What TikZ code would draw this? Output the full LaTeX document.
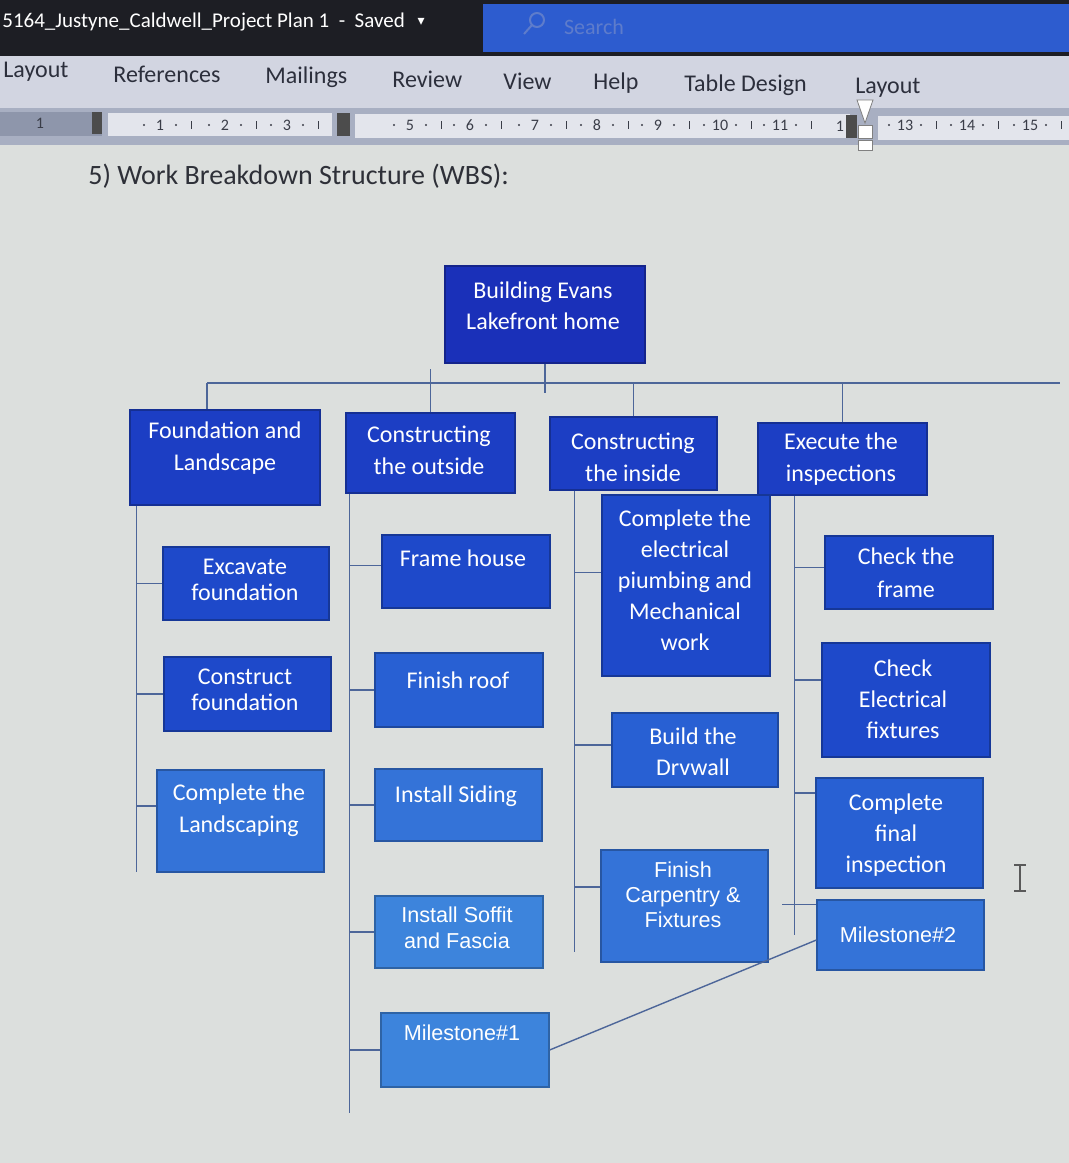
\documentclass[tikz,border=0pt]{standalone}
\usepackage{fontspec}
\setmainfont{Carlito}
\newfontfamily\arialf{Liberation Sans}
\newfontfamily\symf{DejaVu Sans}
\usetikzlibrary{calc,fit,positioning}

\definecolor{titlebar}{HTML}{1D1E24}
\definecolor{searchbox}{HTML}{2D5CCF}
\definecolor{searchtxt}{HTML}{5E7CCB}
\definecolor{ribbon}{HTML}{D2D5E1}
\definecolor{tabtext}{HTML}{2C2F3C}
\definecolor{rulerbg}{HTML}{A8AFC2}
\definecolor{rulerdark}{HTML}{8E96AB}
\definecolor{rulerwhite}{HTML}{E3E5EC}
\definecolor{rulertxt}{HTML}{3A3D48}
\definecolor{page}{HTML}{DCDFDD}
\definecolor{headtxt}{HTML}{2E3038}
\definecolor{wire}{HTML}{4D6699}
\definecolor{wbsR}{HTML}{1A30B9}
\definecolor{wbsA}{HTML}{1C3EC4}
\definecolor{wbsB}{HTML}{1E49CA}
\definecolor{wbsC}{HTML}{2860D3}
\definecolor{wbsD}{HTML}{3473D8}
\definecolor{wbsE}{HTML}{3D84DC}

\begin{document}
\begin{tikzpicture}[x=0.5pt,y=-0.5pt,
  box/.style={fill=#1,draw=#1!75!black,line width=0.6pt,inner sep=0pt},
  txt/.style={text=white,align=center,inner sep=0pt,font=\fontsize{12}{15.5}\selectfont},
  tight/.style={font=\fontsize{12}{13}\selectfont},
  txta/.style={text=white,align=center,inner sep=0pt,font=\arialf\fontsize{10.8}{13}\selectfont},
  wire/.style={draw=wire,line width=0.7pt},
  tab/.style={text=tabtext,inner sep=0pt,font=\fontsize{12}{14}\selectfont},
  rnum/.style={text=rulertxt,inner sep=0pt,font=\fontsize{8}{9}\selectfont}]
  \useasboundingbox (0,0) rectangle (1069,1163);

  \fill[page] (0,145) rectangle (1069,1163);
  \fill[titlebar] (0,0) rectangle (1069,56);
  \fill[searchbox] (483,4) rectangle (1069,52);
  \draw[searchtxt,line width=1pt] (537,20) circle (7) (532,25) -- (524,34);
  \node[text=searchtxt,inner sep=0pt,font=\fontsize{11}{12}\selectfont] (srch) at (594,27) {Search};
  \node[text=white,anchor=west,inner sep=0pt,font=\fontsize{10.5}{12}\selectfont] (fname) at (2,22)
    {5164\_Justyne\_Caldwell\_Project Plan 1 \ - \ Saved};
  \node[text=white,inner sep=0pt,font=\symf\fontsize{7}{8}\selectfont,right=6pt of fname] (fdrop) {▾};

  \fill[ribbon] (0,56) rectangle (1069,108);
  \node[tab,anchor=west] (t1) at (3,72) {Layout};
  \node[tab,anchor=west] (t2) at (113,74) {References};
  \node[tab,anchor=west] (t3) at (265,77) {Mailings};
  \node[tab,anchor=west] (t4) at (392,79) {Review};
  \node[tab,anchor=west] (t5) at (503,81) {View};
  \node[tab,anchor=west] (t6) at (593,83) {Help};
  \node[tab,anchor=west] (t7) at (684,85) {Table Design};
  \node[tab,anchor=west] (t8) at (855,88) {Layout};

  \fill[rulerbg] (0,108) rectangle (1069,145);
  \fill[rulerdark] (0,112) rectangle (102,136);
  \fill[rulerwhite] (108,113) rectangle (332,136);
  \fill[rulerwhite] (355,114) rectangle (850,138);
  \fill[rulerwhite] (878,116) rectangle (1069,140);
  \fill[black!70] (337,113) rectangle (350,136);
  \fill[black!70] (92,112) rectangle (102,134);
  \fill[black!70] (846,115) rectangle (857,138);
  \filldraw[fill=white,draw=gray] (857,100) -- (873,100) -- (865,123) -- cycle;
  \filldraw[fill=white,draw=gray] (858,125) rectangle (872,138);
  \filldraw[fill=white,draw=gray] (858,140) rectangle (872,150);
  \foreach \n/\x in {1/160,2/225,3/287,5/410,6/470,7/535,8/597,9/658,10/720,11/780,13/905,14/967,15/1030}{
    \node[rnum] (r\n) at (\x,125) {\n};
    \fill[rulertxt] (\x-16,125) circle (1.2) (\x+16,125) circle (1.2);
    \draw[rulertxt,line width=0.5pt] (\x+31,121) -- (\x+31,129);
  }
  \node[rnum] (r0) at (40,123) {1};
  \node[rnum] (r12) at (840,126) {1};

  \node[text=headtxt,anchor=west,inner sep=0pt,font=\fontsize{14}{16}\selectfont] (head) at (88,176)
    {5) Work Breakdown Structure (WBS):};

  \node[box=wbsR,fit={(445,266) (645,363)}] (root) {};
  \node[box=wbsA,fit={(130,410) (320,505)}] (fnd) {};
  \node[box=wbsA,fit={(346,413) (515,493)}] (out) {};
  \node[box=wbsA,fit={(550,417) (717,490)}] (ins) {};
  \node[box=wbsA,fit={(758,423) (927,495)}] (exe) {};

  \node[box=wbsB,fit={(163,547) (329,620)}] (exc) {};
  \node[box=wbsB,fit={(164,657) (331,731)}] (con) {};
  \node[box=wbsD,fit={(157,770) (324,872)}] (lsc) {};

  \node[box=wbsB,fit={(382,535) (550,608)}] (frm) {};
  \node[box=wbsC,fit={(375,653) (543,727)}] (rof) {};
  \node[box=wbsD,fit={(375,769) (542,841)}] (sid) {};
  \node[box=wbsE,fit={(375,896) (543,968)}] (sof) {};
  \node[box=wbsE,fit={(381,1013) (549,1087)}] (ms1) {};

  \node[box=wbsB,fit={(602,495) (770,676)}] (ele) {};
  \node[box=wbsC,fit={(612,713) (778,787)}] (dry) {};
  \node[box=wbsD,fit={(601,850) (768,962)}] (crp) {};

  \node[box=wbsB,fit={(825,536) (993,609)}] (chf) {};
  \node[box=wbsB,fit={(822,643) (990,757)}] (cel) {};
  \node[box=wbsC,fit={(816,778) (983,888)}] (cfi) {};
  \node[box=wbsD,fit={(817,900) (984,970)}] (ms2) {};

  \coordinate (barL) at (207,383);
  \coordinate (barR) at (1060,383);
  \draw[wire] (barL) -- (barR);
  \draw[wire] (root.south) -- ++(0,29);
  \draw[wire] (barL) -- (barL |- fnd.north);
  \draw[wire] (out.north) -- ++(0,-43);
  \draw[wire] (ins.north) -- (ins.north |- barL);
  \draw[wire] (exe.north) -- (exe.north |- barL);

  \coordinate (s1) at ($(fnd.south west)+(7,0)$);
  \coordinate (s2) at ($(out.south west)+(4,0)$);
  \coordinate (s3) at ($(ins.south west)+(25,0)$);
  \coordinate (s4) at ($(exe.south west)+(37,0)$);
  \draw[wire] (s1) -- (s1 |- 0,872);
  \draw[wire] (s2) -- (s2 |- 0,1113);
  \draw[wire] (s3) -- (s3 |- 0,952);
  \draw[wire] (s4) -- (s4 |- 0,935);

  \draw[wire] (s1 |- exc.west) -- (exc.west);
  \draw[wire] (s1 |- con.west) -- (con.west);
  \draw[wire] ($(s1 |- lsc.west)+(0,-15)$) -- ($(lsc.west)+(0,-15)$);
  \draw[wire] ($(s2 |- frm.west)+(0,-6)$) -- ($(frm.west)+(0,-6)$);
  \draw[wire] (s2 |- rof.west) -- (rof.west);
  \draw[wire] (s2 |- sid.west) -- (sid.west);
  \draw[wire] (s2 |- sof.west) -- (sof.west);
  \draw[wire] (s2 |- ms1.west) -- (ms1.west);
  \draw[wire] ($(s3 |- ele.west)+(0,-13)$) -- ($(ele.west)+(0,-13)$);
  \draw[wire] ($(s3 |- dry.west)+(0,-5)$) -- ($(dry.west)+(0,-5)$);
  \draw[wire] ($(s3 |- crp.west)+(0,-19)$) -- ($(crp.west)+(0,-19)$);
  \draw[wire] ($(s4 |- chf.west)+(0,-5)$) -- ($(chf.west)+(0,-5)$);
  \draw[wire] ($(s4 |- cel.west)+(0,-20)$) -- ($(cel.west)+(0,-20)$);
  \draw[wire] ($(s4 |- cfi.west)+(0,-40)$) -- ($(cfi.west)+(0,-40)$);
  \draw[wire] ($(s4 |- ms2.north west)+(-12,5)$) -- ($(ms2.north west)+(0,5)$);
  \draw[wire] (ms1.east) -- ($(ms2.west)+(0,5)$);

  \node[txt] (root-t) at (543,306) {Building Evans\\Lakefront home};
  \node[txt,font=\fontsize{12}{16}\selectfont] (fnd-t) at (225,448) {Foundation and\\Landscape};
  \node[txt,font=\fontsize{12}{16}\selectfont] (out-t) at (429,450) {Constructing\\the outside};
  \node[txt,font=\fontsize{12}{16}\selectfont] (ins-t) at (633,457) {Constructing\\the inside};
  \node[txt,font=\fontsize{12}{16}\selectfont] (exe-t) at (841,459) {Execute the\\inspections};

  \node[txt,tight] (exc-t) at (245,580) {Excavate\\foundation};
  \node[txt,tight] (con-t) at (245,690) {Construct\\foundation};
  \node[txt,font=\fontsize{12}{16}\selectfont] (lsc-t) at (239,810) {Complete the\\Landscaping};

  \node[txt] (frm-t) at (463,558) {Frame house};
  \node[txt] (rof-t) at (458,680) {Finish roof};
  \node[txt] (sid-t) at (456,796) {Install Siding};
  \node[txta] (sof-t) at (457,928) {Install Soffit\\and Fascia};
  \node[txta] (ms1-t) at (462,1033) {Milestone\#1};

  \node[txt] (ele-t) at (685,580) {Complete the\\electrical\\piumbing and\\Mechanical\\work};
  \node[txt] (dry-t) at (693,752) {Build the\\Drvwall};
  \node[txta,font=\arialf\fontsize{10.8}{12.5}\selectfont] (crp-t) at (683,895) {Finish\\Carpentry \&\\Fixtures};

  \node[txt,font=\fontsize{12}{16.5}\selectfont] (chf-t) at (906,573) {Check the\\frame};
  \node[txt] (cel-t) at (903,699) {Check\\Electrical\\fixtures};
  \node[txt] (cfi-t) at (896,835) {Complete\\final\\inspection};
  \node[txta] (ms2-t) at (898,935) {Milestone\#2};

  \draw[black!65,line width=0.8pt] (1020,866) -- (1020,890) (1014,865) -- (1026,865) (1014,891) -- (1026,891);
\end{tikzpicture}
\end{document}
